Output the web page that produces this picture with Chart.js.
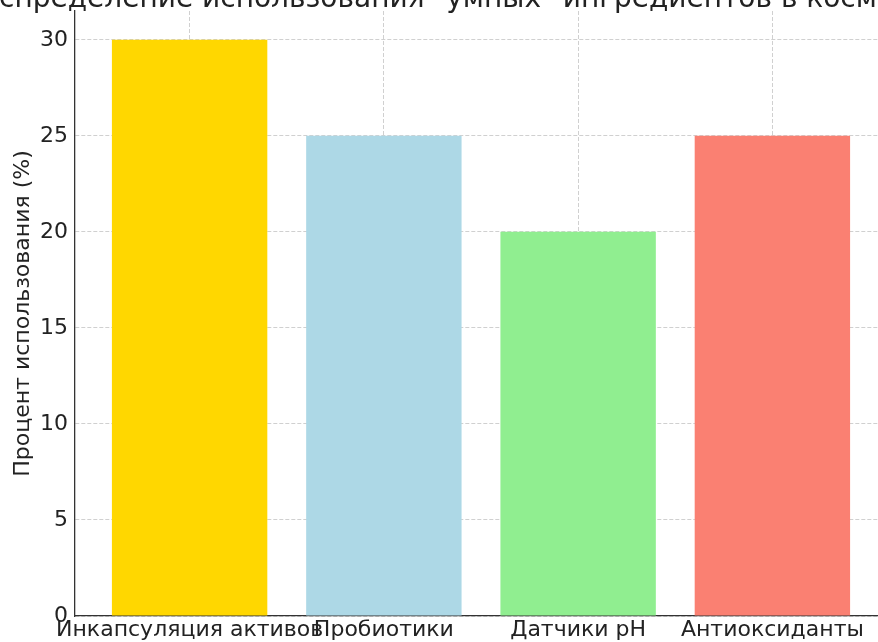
<!DOCTYPE html>
<html>
<head>
<meta charset="utf-8">
<script src="https://cdn.jsdelivr.net/npm/chart.js@4/dist/chart.umd.min.js"></script>
<style>
  html, body { margin: 0; padding: 0; background: #fff; overflow: hidden; }
  #wrap { width: 878px; height: 642px; overflow: hidden; position: relative; }
  #c { position: absolute; left: 0; top: 0; }
</style>
</head>
<body>
<div id="wrap"><canvas id="c" width="900" height="642"></canvas></div>
<script>
// данные
categories = ['Инкапсуляция активов', 'Пробиотики', 'Датчики pH', 'Антиоксиданты']
usage = [30, 25, 20, 25]
barColors = ['#FFD700', '#ADD8E6', '#90EE90', '#FA8072']
yTicks = [0, 5, 10, 15, 20, 25, 30]
chartTitle = 'Распределение использования "умных" ингредиентов в косметике'
yTitle = 'Процент использования (%)'

points = usage.map(function(v, i){ return {x: i, y: v} })

// заголовок рисуем сами, он обрезан сверху и слева как на оригинале
titlePlugin = {
    id: 'cutTitle',
    afterDraw: function(chart){
        var ctx = chart.ctx
        ctx.save()
        ctx.font = '28px "DejaVu Sans"'
        ctx.fillStyle = '#222'
        ctx.textAlign = 'left'
        ctx.textBaseline = 'alphabetic'
        ctx.fillText(chartTitle, -ctx.measureText('Ра').width - 1, 7)
        ctx.restore()
    }
}

gridColor = 'rgba(150,150,150,0.45)'
tickFont = { family: 'DejaVu Sans', size: 22 }

window.onload = function(){
    ctx = document.getElementById('c')
    config = {
        type: 'bar',
        data: {
            datasets: [{
                data: points,
                backgroundColor: barColors,
                borderWidth: 0,
                barPercentage: 1,
                categoryPercentage: 0.8
            }]
        },
        options: {
            responsive: false,
            animation: false,
            devicePixelRatio: 1,
            layout: { padding: { top: 11, right: 13, left: 0, bottom: 0 } },
            plugins: { legend: { display: false }, tooltip: { enabled: false } },
            scales: {
                x: {
                    type: 'linear',
                    min: -0.59,
                    max: 3.59,
                    offset: false,
                    z: 1,
                    afterBuildTicks: function(scale){
                        scale.ticks = categories.map(function(c, i){ return {value: i} })
                    },
                    afterFit: function(scale){ scale.height = 26 },
                    grid: { color: gridColor, drawTicks: false, offset: false },
                    border: { display: true, color: '#333', width: 1.3, dash: [4, 2] },
                    ticks: {
                        autoSkip: false,
                        maxRotation: 0,
                        padding: 1,
                        color: '#222',
                        font: tickFont,
                        callback: function(v){ return categories[v] }
                    }
                },
                y: {
                    min: 0,
                    max: 31.5,
                    z: 1,
                    afterBuildTicks: function(scale){
                        scale.ticks = yTicks.map(function(v){ return {value: v} })
                    },
                    afterFit: function(scale){
                        scale.width = 75
                        scale.paddingTop = 0
                    },
                    grid: { color: gridColor, drawTicks: false },
                    border: { display: true, color: '#333', width: 1.3, dash: [4, 2] },
                    ticks: {
                        padding: 7,
                        color: '#222',
                        font: tickFont
                    },
                    title: {
                        display: true,
                        text: yTitle,
                        color: '#222',
                        font: tickFont,
                        padding: { top: 10, bottom: 0 }
                    }
                }
            }
        },
        plugins: [titlePlugin]
    }
    createNewChart = new Chart(ctx, config)
}
</script>
</body>
</html>
